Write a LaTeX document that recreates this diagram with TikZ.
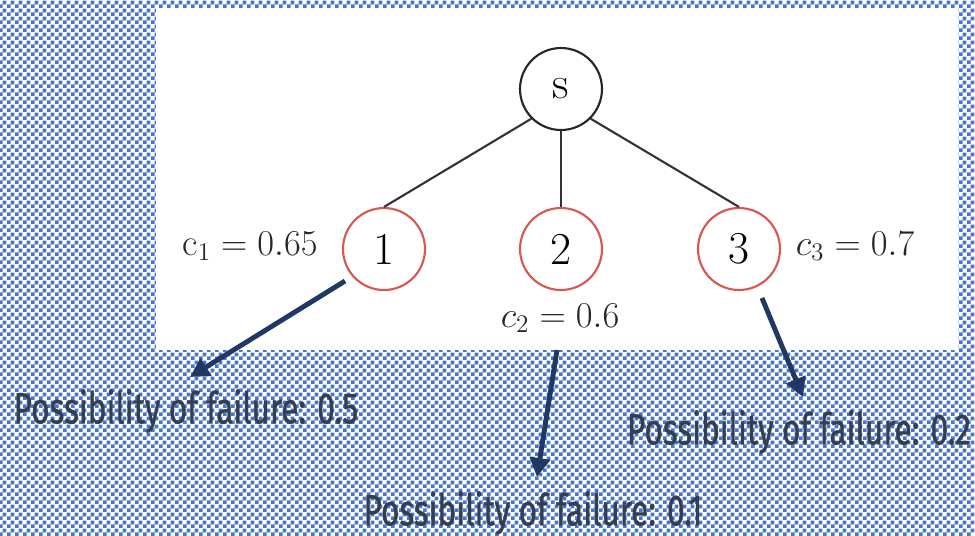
\documentclass[tikz,border=0pt]{standalone}
\usepackage{fontspec}
\newfontfamily\notefont[FakeStretch=0.72, FakeBold=0.8]{Fira Sans}
\usetikzlibrary{arrows.meta,patterns}
\definecolor{checkblue}{HTML}{4A76C9}
\definecolor{arrownavy}{HTML}{1F3864}
\definecolor{notegray}{HTML}{333F50}
\definecolor{ringred}{HTML}{D9574F}
\pgfdeclarepatternformonly{finecheck}{\pgfpointorigin}{\pgfqpoint{4.6pt}{4.6pt}}{\pgfqpoint{4.6pt}{4.6pt}}{%
  \pgfpathrectangle{\pgfpointorigin}{\pgfqpoint{2.3pt}{2.3pt}}%
  \pgfpathrectangle{\pgfqpoint{2.3pt}{2.3pt}}{\pgfqpoint{2.3pt}{2.3pt}}%
  \pgfusepath{fill}}

\begin{document}
\begin{tikzpicture}[x=0.02cm, y=-0.02cm, >={Triangle[length=0.38cm,width=0.4cm]},
    vert/.style={circle, draw=black!85, line width=1.2pt, minimum size=1.64cm, inner sep=0pt,
      font=\fontsize{26}{30}\selectfont},
    leaf/.style={vert, draw=ringred},
    edge/.style={draw=black!80, line width=1.2pt},
    cost/.style={font=\fontsize{21.5}{26}\selectfont, text=black!85},
    note/.style={font=\notefont\fontsize{25}{30}\selectfont, text=notegray},
    fail/.style={->, draw=arrownavy, line width=2.8pt}]
  \useasboundingbox (0,0) rectangle (975,535);
  % checkered backdrop, white panel on top
  \fill[white] (0,0) rectangle (975,535);
  \fill[pattern=finecheck, pattern color=checkblue] (0,0) rectangle (975,535);
  \fill[white] (156,8) rectangle (958,350);

  % the tree
  \node[vert] (s) at (561,89) {s};
  \node[leaf] (n1) at (384,249) {1};
  \node[leaf] (n2) at (561,249) {2};
  \node[leaf] (n3) at (739,249) {3};
  \draw[edge] (s.south west) -- (n1.north);
  \draw[edge] (s) -- (n2);
  \draw[edge] (s.south east) -- (n3.north);

  \node[cost] (c1) at (250,246) {$\mathrm{c}_1 = 0.65$};
  \node[cost] (c2) at (560,318) {$c_2 = 0.6$};
  \node[cost] (c3) at (855,246) {$c_3 = 0.7$};

  % failure notes
  \node[note] (f1) at (186,411) {Possibility of failure: 0.5};
  \node[note] (f2) at (533,513) {Possibility of failure: 0.1};
  \node[note] (f3) at (799,432) {Possibility of failure: 0.2};
  \coordinate (a1) at (345,281);
  \coordinate (a2) at (557,350);
  \coordinate (a3) at (762,298);
  \coordinate (b1) at (190,377);
  \coordinate (b2) at (537,477);
  \coordinate (b3) at (803,397);
  \draw[fail] (a1) -- (b1);
  \draw[fail] (a2) -- (b2);
  \draw[fail] (a3) -- (b3);
\end{tikzpicture}
\end{document}
